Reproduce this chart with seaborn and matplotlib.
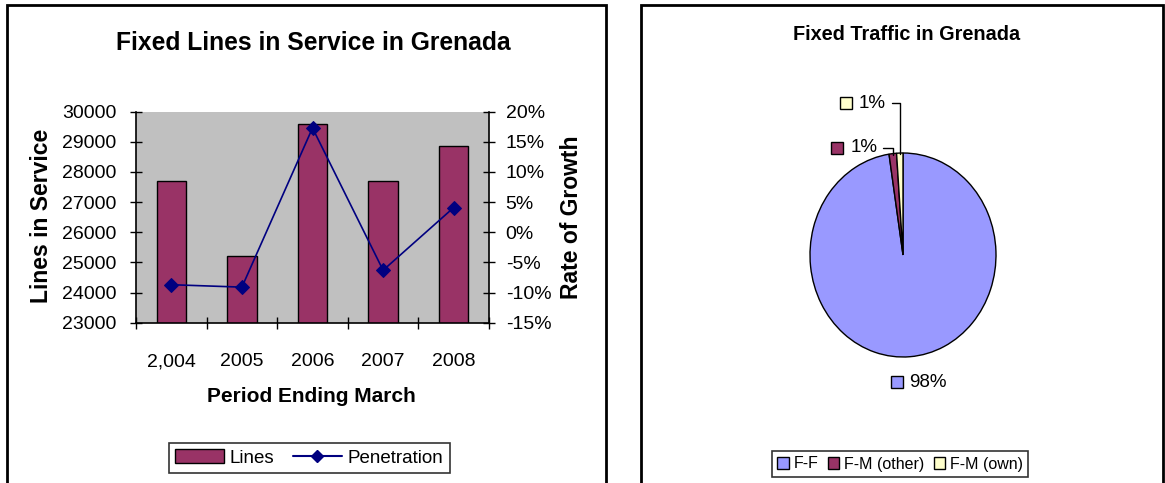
import numpy as np
import pandas as pd
import matplotlib
matplotlib.use("Agg")
import matplotlib.pyplot as plt
import seaborn as sns
from matplotlib.patches import Patch, Rectangle
from matplotlib.lines import Line2D
from matplotlib.ticker import PercentFormatter, FixedLocator, NullFormatter

# Data
years = ["2,004", "2005", "2006", "2007", "2008"]
lines_in_service = [27700, 25200, 29600, 27700, 28850]
growth_rate = [-0.087, -0.091, 0.173, -0.063, 0.041]

traffic_labels = ["F-F", "F-M (other)", "F-M (own)"]
traffic_share = [97.6, 1.3, 1.1]
traffic_colors = ["#9999FF", "#993366", "#FFFFCC"]

BAR_COLOR = "#993366"
LINE_COLOR = "#000080"

sns.set_theme(style="white")
plt.rcParams["font.family"] = ["Liberation Sans", "DejaVu Sans"]
plt.rcParams.update({
    "text.color": "black",
    "axes.labelcolor": "black",
    "xtick.color": "black",
    "ytick.color": "black",
    "axes.unicode_minus": False,
})

W, H = 1165, 483
fig = plt.figure(figsize=(W / 100, H / 100), dpi=100)


def px_box(x0, y0, x1, y1):
    # pixel box (top-left origin) -> figure fraction rect
    return [x0 / W, 1 - y1 / H, (x1 - x0) / W, (y1 - y0) / H]


# Panel borders
for x0, x1 in [(7, 606), (641, 1163)]:
    fig.add_artist(Rectangle((x0 / W, -0.05), (x1 - x0) / W, 1.05 - 4.5 / H,
                             transform=fig.transFigure, fill=False,
                             edgecolor="black", linewidth=2))

# ---- Left: lines in service ----
ax = fig.add_axes(px_box(136, 111.7, 489, 322.7))
df = pd.DataFrame({"year": years, "lines": lines_in_service, "growth": growth_rate})
sns.barplot(data=df, x="year", y="lines", ax=ax, color=BAR_COLOR, saturation=1,
            edgecolor="black", linewidth=1, width=0.415)
ax.set_facecolor("#C0C0C0")
ax.set_ylim(23000, 30000)
ax.set_yticks(np.arange(23000, 30001, 1000))
ax.set_xlim(-0.5, len(years) - 0.5)
ax.xaxis.set_major_locator(FixedLocator(np.arange(-0.5, len(years), 1.0)))
ax.xaxis.set_major_formatter(NullFormatter())
ax.xaxis.set_minor_locator(FixedLocator(np.arange(len(years))))
ax.set_xticklabels(years, minor=True)
ax.tick_params(axis="x", which="major", direction="inout", length=8, width=1,
               color="black", bottom=True)
ax.tick_params(axis="x", which="minor", length=0, pad=22, labelsize=14)
ax.tick_params(axis="y", direction="inout", length=8, width=1, color="black",
               left=True, labelsize=14, pad=10)
for s in ["left", "bottom"]:
    ax.spines[s].set_color("black")
    ax.spines[s].set_linewidth(1.2)
ax.spines["top"].set_visible(False)
ax.spines["right"].set_visible(False)
ax.set_xlabel("")
ax.set_ylabel("")

ax2 = ax.twinx()
sns.lineplot(x=np.arange(len(years)), y=df["growth"], ax=ax2, color=LINE_COLOR,
             marker="D", markersize=7, markeredgecolor=LINE_COLOR, linewidth=1.2,
             sort=False)
ax2.set_ylim(-0.15, 0.20)
ax2.set_yticks(np.arange(-0.15, 0.2001, 0.05))
ax2.yaxis.set_major_formatter(PercentFormatter(1.0, decimals=0))
ax2.tick_params(axis="y", direction="inout", length=8, width=1, color="black",
                right=True, labelsize=14, pad=8)
for s in ["top", "left", "bottom"]:
    ax2.spines[s].set_visible(False)
ax2.spines["right"].set_color("black")
ax2.spines["right"].set_linewidth(1.2)
ax2.set_ylabel("")
ax2.set_xlabel("")

fig.text(313 / W, 1 - 43 / H, "Fixed Lines in Service in Grenada", ha="center",
         va="center", fontsize=17.7, fontweight="bold")
fig.text(42 / W, 1 - 216 / H, "Lines in Service", ha="center", va="center",
         rotation=90, fontsize=16.5, fontweight="bold")
fig.text(571 / W, 1 - 217 / H, "Rate of Growth", ha="center", va="center",
         rotation=90, fontsize=16.5, fontweight="bold")
fig.text(311 / W, 1 - 396 / H, "Period Ending March", ha="center", va="center",
         fontsize=15, fontweight="bold")

left_handles = [Patch(facecolor=BAR_COLOR, edgecolor="black", linewidth=1),
                Line2D([], [], color=LINE_COLOR, marker="D", markersize=6)]
leg = fig.legend(left_handles, ["Lines", "Penetration"], loc="center",
                 bbox_to_anchor=(309 / W, 1 - 458 / H), ncol=2, fontsize=13.5,
                 frameon=True, fancybox=False, edgecolor="black",
                 handlelength=2.6, handletextpad=0.3, columnspacing=1.0,
                 borderpad=0.35)
leg.get_frame().set_linewidth(1.2)

# ---- Right: traffic pie ----
pcx, pcy, rx, ry = 903, 255, 93, 102
pax = fig.add_axes(px_box(pcx - rx, pcy - ry, pcx + rx, pcy + ry))
wedges, _ = pax.pie(traffic_share, colors=traffic_colors, startangle=90,
                    counterclock=False,
                    wedgeprops=dict(edgecolor="black", linewidth=1))
pax.set_aspect("auto")
pax.set_xlim(-1, 1)
pax.set_ylim(-1, 1)
pax.axis("off")

pct = [f"{round(v):.0f}%" for v in traffic_share]
label_pos = [(0.27, -1.25), (-0.42, 1.05), (-0.33, 1.49)]
key_dx = [-0.33, -0.29, -0.28]
for i, w in enumerate(wedges):
    tx, ty = label_pos[i]
    pax.text(tx, ty, pct[i], ha="center", va="center", fontsize=13.5)
    pax.plot([tx + key_dx[i]], [ty], marker="s", markersize=8,
             markerfacecolor=traffic_colors[i], markeredgecolor="black",
             clip_on=False)
    if i > 0:
        mid = np.deg2rad((w.theta1 + w.theta2) / 2)
        xt, yt = np.cos(mid), np.sin(mid)
        pax.plot([tx + 0.21, xt, xt], [ty, ty, yt * 0.99], color="black",
                 linewidth=1, clip_on=False)

fig.text(907 / W, 1 - 35 / H, "Fixed Traffic in Grenada", ha="center", va="center",
         fontsize=14.3, fontweight="bold")

pie_handles = [Patch(facecolor=c, edgecolor="black", linewidth=1) for c in traffic_colors]
leg2 = fig.legend(pie_handles, traffic_labels, loc="center",
                  bbox_to_anchor=(900 / W, 1 - 464 / H), ncol=3, fontsize=11.5,
                  frameon=True, fancybox=False, edgecolor="black",
                  handlelength=0.7, handleheight=0.7, handletextpad=0.3,
                  columnspacing=0.6, borderpad=0.35)
leg2.get_frame().set_linewidth(1.2)

fig.savefig("out.png", dpi=100)
